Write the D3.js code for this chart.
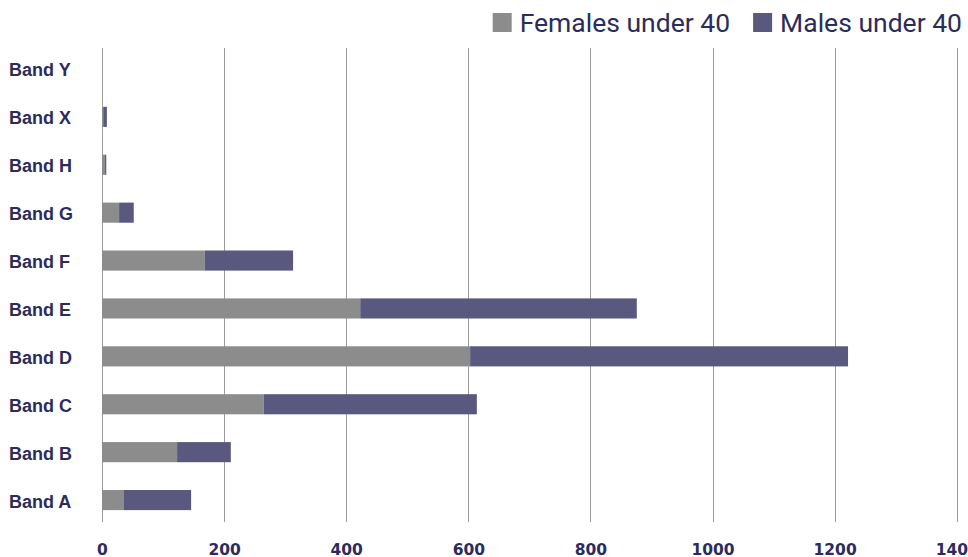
<!DOCTYPE html>
<html>
<head>
<meta charset="utf-8">
<script src="https://cdn.jsdelivr.net/npm/d3@7"></script>
<style>
  html, body { margin: 0; padding: 0; background: #ffffff; }
  svg { display: block; }
</style>
</head>
<body>
<svg id="chart" width="968" height="557"></svg>
<script>
// ---- data ----
const categories = ["Band Y", "Band X", "Band H", "Band G", "Band F", "Band E", "Band D", "Band C", "Band B", "Band A"];
const femalesUnder40 = [0, 2, 5, 28, 168, 423, 603, 265, 123, 36];
const malesUnder40   = [0, 6, 2, 24, 145, 453, 619, 349, 88, 110];
const seriesNames = ["Females under 40", "Males under 40"];
const seriesColors = ["#8c8c8c", "#59587f"];
const xTicks = [0, 200, 400, 600, 800, 1000, 1200, 1400];

// ---- setup ----
const svg = d3.select("#chart");
const textColor = "#2c2c5c";

const x = d3.scaleLinear().domain([0, 1400]).range([102, 956.7]);
const y = d3.scaleBand().domain(categories).range([45, 524]).paddingInner(0.58).paddingOuter(0.29);

const rows = categories.map((c, i) => ({ cat: c, f: femalesUnder40[i], m: malesUnder40[i] }));
const stack = d3.stack().keys(["f", "m"])(rows);

// gridlines
svg.append("g")
  .selectAll("line")
  .data(xTicks)
  .join("line")
  .attr("x1", d => Math.round(x(d)) + 0.5)
  .attr("x2", d => Math.round(x(d)) + 0.5)
  .attr("y1", 48)
  .attr("y2", 522)
  .attr("stroke", "#9b9b9b")
  .attr("stroke-width", 1);

// bars
svg.append("g")
  .selectAll("g")
  .data(stack)
  .join("g")
  .attr("fill", (d, i) => seriesColors[i])
  .selectAll("rect")
  .data(d => d)
  .join("rect")
  .attr("x", d => x(d[0]))
  .attr("width", d => Math.max(0, x(d[1]) - x(d[0])))
  .attr("y", d => y(d.data.cat))
  .attr("height", y.bandwidth());

// category labels
svg.append("g")
  .selectAll("text")
  .data(categories)
  .join("text")
  .attr("x", 9)
  .attr("y", d => y(d) + y.bandwidth() / 2 + 1)
  .attr("dy", "0.36em")
  .attr("font-family", "'Liberation Sans', Arial, sans-serif")
  .attr("font-weight", "bold")
  .attr("font-size", 18)
  .attr("fill", textColor)
  .text(d => d);

// x-axis tick labels
const xAxis = d3.axisBottom(x).tickValues(xTicks).tickSize(0).tickPadding(0).tickFormat(d3.format("d"));
const ax = svg.append("g").attr("transform", "translate(0,543)").call(xAxis);
ax.select(".domain").remove();
ax.selectAll("text")
  .attr("dy", null)
  .attr("y", 11.5)
  .attr("font-family", "'DejaVu Sans', Verdana, sans-serif")
  .attr("font-weight", "bold")
  .attr("font-size", 15.5)
  .attr("fill", textColor);

// legend
const legend = svg.append("g");
let cx = 0;
seriesNames.forEach((name, i) => {
  const g = legend.append("g");
  g.append("rect").attr("x", cx).attr("y", 13).attr("width", 19).attr("height", 19).attr("fill", seriesColors[i]);
  const t = g.append("text")
    .attr("x", cx + 27)
    .attr("y", 32)
    .attr("font-family", "Roboto, 'Noto Sans', sans-serif")
    .attr("font-size", 26.5)
    .attr("fill", textColor)
    .text(name);
  const w = t.node().getComputedTextLength();
  cx = cx + 27 + w + 23;
});
const totalW = cx - 23;
legend.attr("transform", `translate(${962 - totalW},0)`);
</script>
</body>
</html>
